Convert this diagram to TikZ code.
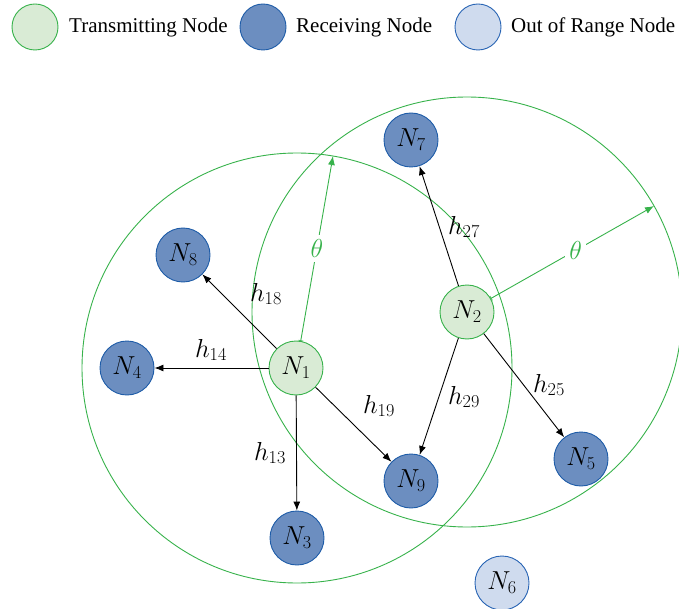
\RequirePackage{fix-cm}
\documentclass[tikz,border=0pt]{standalone}
\usepackage{fontspec}
\newfontfamily\legendfont{Liberation Serif}
\usetikzlibrary{arrows.meta}
\definecolor{tgreen}{RGB}{55,178,75}
\definecolor{tfill}{RGB}{217,235,213}
\definecolor{rfill}{RGB}{108,142,192}
\definecolor{rborder}{RGB}{30,92,168}
\definecolor{ofill}{RGB}{207,219,238}
\definecolor{oborder}{RGB}{40,100,180}
\tikzset{
  nodebase/.style={circle, minimum size=54pt, inner sep=0pt, line width=0.9pt, font=\fontsize{26}{30}\selectfont},
  txnode/.style={nodebase, draw=tgreen, fill=tfill},
  rxnode/.style={nodebase, draw=rborder, fill=rfill},
  oornode/.style={nodebase, draw=oborder, fill=ofill},
  legcircle/.style={circle, minimum size=46pt, inner sep=0pt, line width=0.9pt},
  legtext/.style={anchor=west, inner sep=0pt, font=\legendfont\fontsize{21}{24}\selectfont},
  link/.style={-{Latex[length=9pt,width=7pt]}, line width=0.9pt, black},
  chan/.style={font=\fontsize{26}{30}\selectfont, inner sep=1pt},
  rangecircle/.style={draw=tgreen, line width=0.9pt},
  thetaarrow/.style={{Bar[width=5pt,line width=0.7pt]}-{Latex[length=9pt,width=7pt]}, draw=tgreen, line width=0.9pt},
  thetalabel/.style={fill=white, text=tgreen, font=\fontsize{26}{30}\selectfont, inner sep=4pt},
}
\begin{document}
\begin{tikzpicture}[x=1pt,y=-1pt]
\useasboundingbox (0,0) rectangle (679,609);
\clip (0,0) rectangle (679,609);
% legend
\node[legcircle, draw=tgreen, fill=tfill] (lg1) at (35,27) {};
\node[legtext] (lt1) at (69,27) {Transmitting Node};
\node[legcircle, draw=rborder, fill=rfill] (lg2) at (263,27) {};
\node[legtext] (lt2) at (296,27) {Receiving Node};
\node[legcircle, draw=oborder, fill=ofill] (lg3) at (478,27) {};
\node[legtext] (lt3) at (511,27) {Out of Range Node};
% ranges
\draw[rangecircle] (297,368) circle[radius=215];
\draw[rangecircle] (467,312) circle[radius=215];
% nodes
\node[txnode] (N1) at (296,368) {$N_1$};
\node[txnode] (N2) at (467,312) {$N_2$};
\node[rxnode] (N7) at (411,140) {$N_7$};
\node[rxnode] (N8) at (183,255) {$N_8$};
\node[rxnode] (N4) at (127,368) {$N_4$};
\node[rxnode] (N9) at (411,481) {$N_9$};
\node[rxnode] (N3) at (297,538) {$N_3$};
\node[rxnode] (N5) at (581,459) {$N_5$};
\node[oornode] (N6) at (502,583) {$N_6$};
% theta arrows
\coordinate (T1) at (333,156);
\coordinate (T2) at (654,206);
\draw[thetaarrow] (N1) -- node[thetalabel, pos=0.5] (th1) {$\theta$} (T1);
\draw[thetaarrow] (N2) -- node[thetalabel, pos=0.52] (th2) {$\theta$} (T2);
% links
\draw[link] (N1) -- (N8);
\draw[link] (N1) -- (N4);
\draw[link] (N1) -- (N3);
\draw[link] (N1) -- (N9);
\draw[link] (N2) -- (N7);
\draw[link] (N2) -- (N9);
\draw[link] (N2) -- (N5);
% channel labels
\node[chan] (h18) at (266,294) {$h_{18}$};
\node[chan] (h14) at (211,350) {$h_{14}$};
\node[chan] (h13) at (270,453) {$h_{13}$};
\node[chan] (h19) at (379,406) {$h_{19}$};
\node[chan] (h29) at (464,397) {$h_{29}$};
\node[chan] (h25) at (549,385) {$h_{25}$};
\node[chan] (h27) at (464,227) {$h_{27}$};
\end{tikzpicture}
\end{document}
